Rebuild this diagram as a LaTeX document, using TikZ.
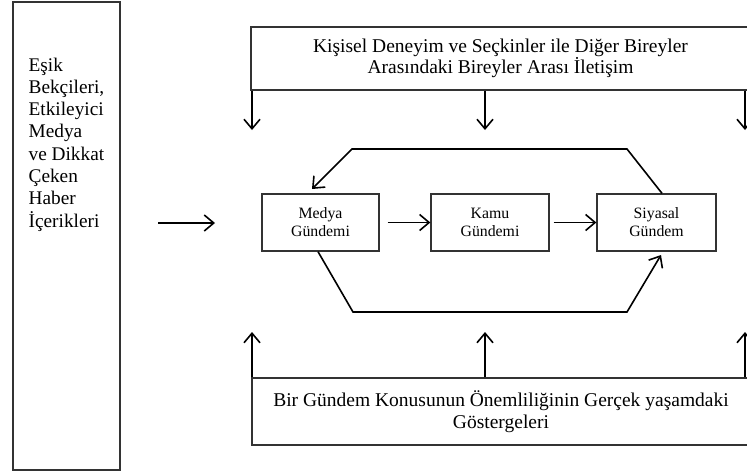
\documentclass[tikz,border=0pt]{standalone}
\usepackage{fontspec}
\setmainfont{Liberation Serif}
\usetikzlibrary{arrows.meta}
\begin{document}
\begin{tikzpicture}[x=1pt,y=-1pt, line width=1.3pt,
  box/.style={draw=black!80, line width=1.3pt, inner sep=0pt, align=center},
  bigtxt/.style={font=\fontsize{19.5}{21.5}\selectfont},
  midtxt/.style={font=\fontsize{15.8}{18}\selectfont},
  arr/.style={line width=1.6pt, -{Straight Barb[length=9.5pt,width=16pt,line width=1.6pt]}}]
\useasboundingbox (0,0) rectangle (747,475);
\clip (0,0) rectangle (747,475);
% left box
\node[box, minimum width=107pt, minimum height=468pt] (leftbox) at (66.5,236) {};
\node[anchor=north west, inner sep=0pt, align=left, font=\fontsize{19.3}{22.3}\selectfont] (lefttext) at (28,57) {Eşik\\Bekçileri,\\Etkileyici\\Medya\\ve Dikkat\\Çeken\\Haber\\İçerikleri};
\coordinate (la) at (158,223);
\coordinate (lb) at (215,223);
\draw[arr] (la) -- (lb);
% top box
\node[box, bigtxt, minimum width=499pt, minimum height=63pt] (topbox) at (500.5,58.5) {Kişisel Deneyim ve Seçkinler ile Diğer Bireyler\\Arasındaki Bireyler Arası İletişim};
\coordinate (t1) at (252,130);
\coordinate (t2) at (485,130);
\coordinate (t3) at (745,130);
\foreach \c in {t1,t2,t3} \draw[arr] (topbox.south -| \c) -- (\c);
% bottom box
\node[box, bigtxt, minimum width=498pt, minimum height=67pt] (botbox) at (501,411.5) {Bir Gündem Konusunun Önemliliğinin Gerçek yaşamdaki\\Göstergeleri};
\coordinate (b1) at (252,332);
\coordinate (b2) at (485,332);
\coordinate (b3) at (745,332);
\foreach \c in {b1,b2,b3} \draw[arr] (botbox.north -| \c) -- (\c);
% middle boxes
\node[box, midtxt, minimum width=117pt, minimum height=57pt] (medya) at (320.5,222.5) {Medya\\Gündemi};
\node[box, midtxt, minimum width=118pt, minimum height=57pt] (kamu) at (490,222.5) {Kamu\\Gündemi};
\node[box, midtxt, minimum width=119pt, minimum height=57pt] (siyasal) at (656.5,222.5) {Siyasal\\Gündem};
\draw[arr] ([xshift=8pt]medya.east) -- (kamu.west);
\draw[arr] ([xshift=4pt]kamu.east) -- (siyasal.west);
% loops
\coordinate (p1) at (627,149);
\coordinate (p2) at (352,149);
\coordinate (p3) at (312,189);
\draw[arr, line join=miter] ([xshift=5.5pt]siyasal.north) -- (p1) -- (p2) -- (p3);
\coordinate (q1) at (353,312);
\coordinate (q2) at (627,312);
\coordinate (q3) at (661,255);
\draw[arr, line join=miter] ([xshift=-2.5pt]medya.south) -- (q1) -- (q2) -- (q3);
\end{tikzpicture}
\end{document}
